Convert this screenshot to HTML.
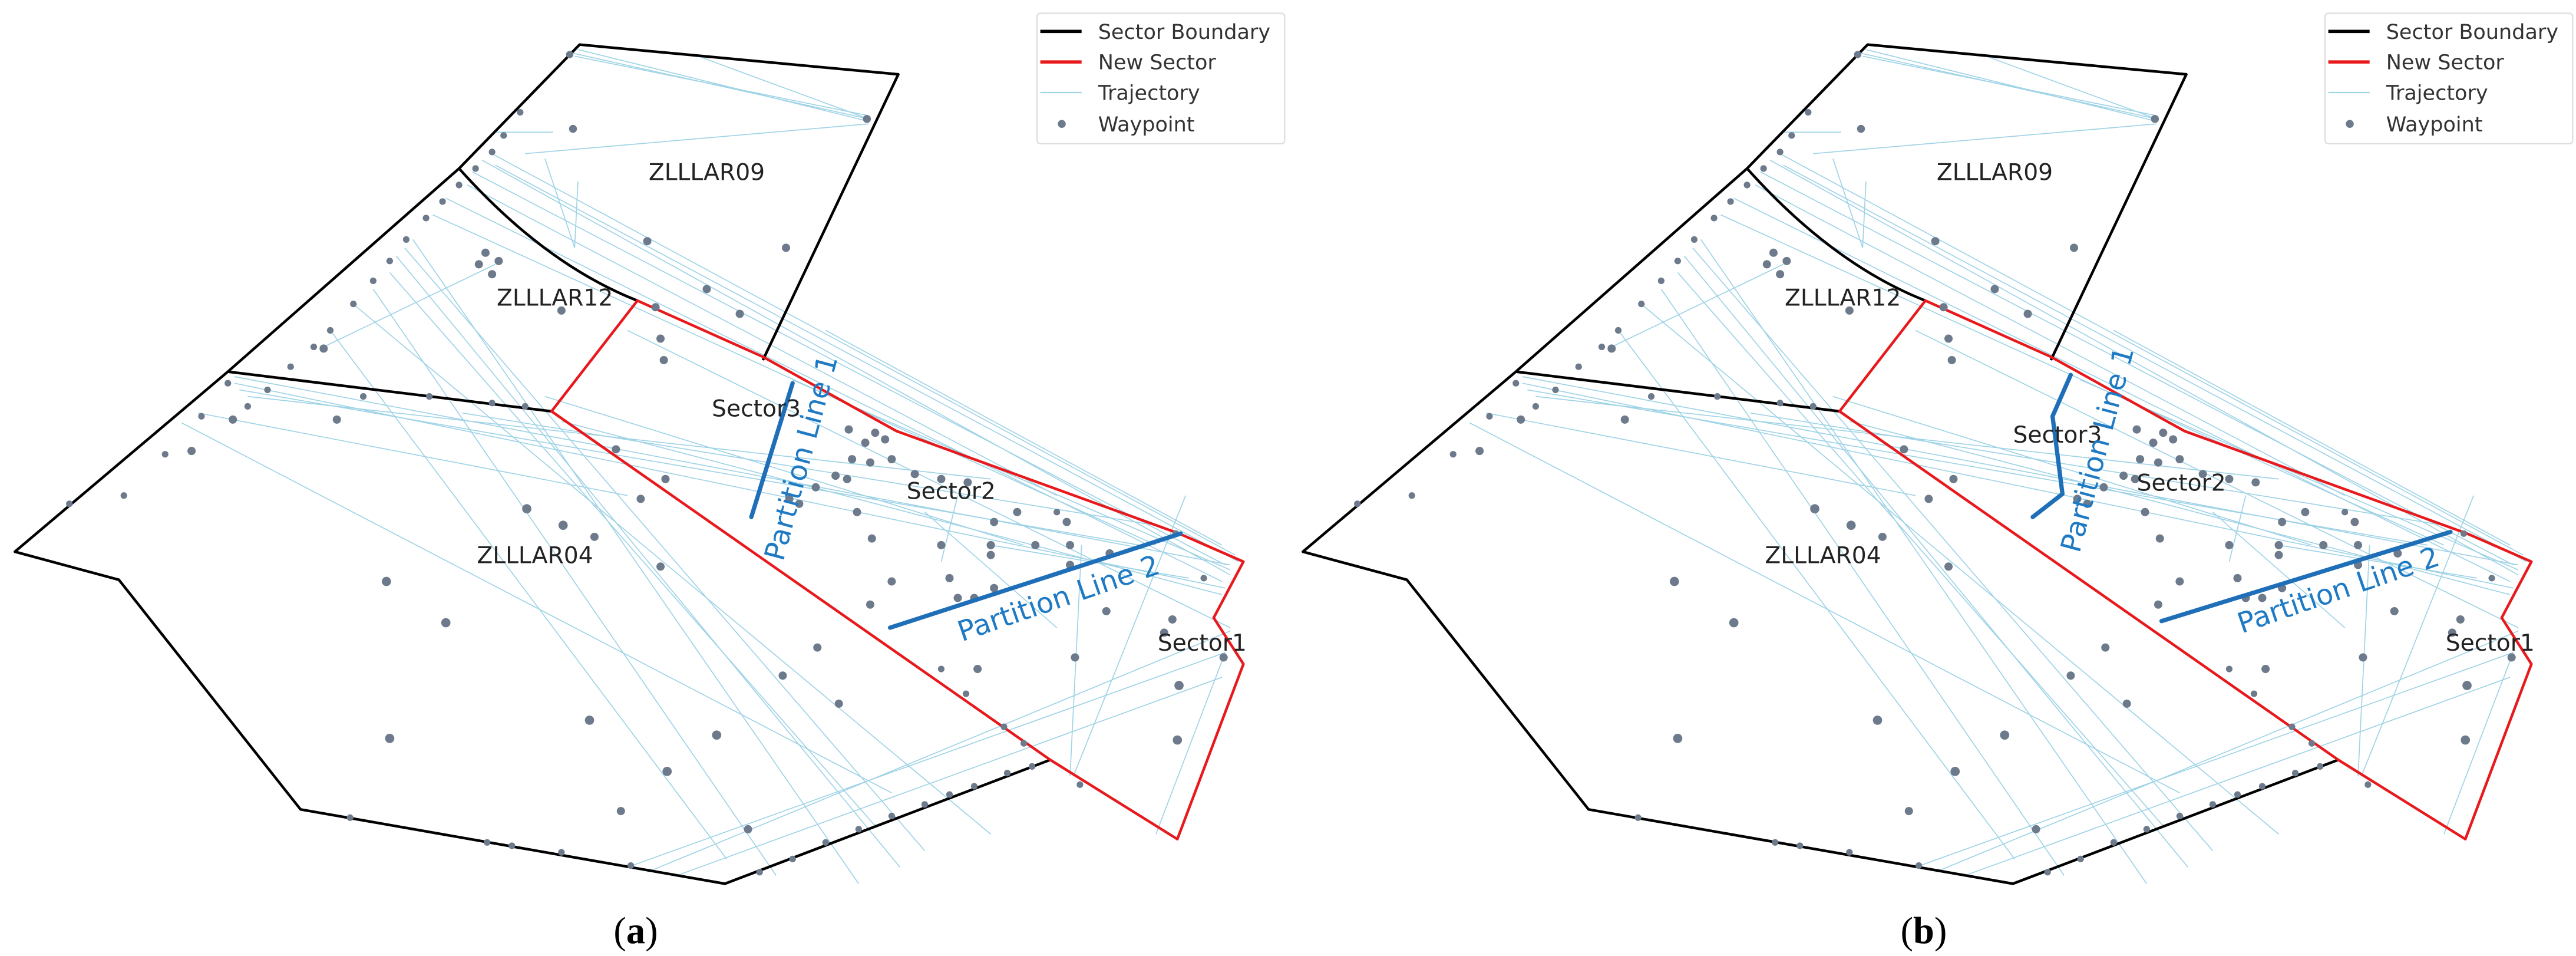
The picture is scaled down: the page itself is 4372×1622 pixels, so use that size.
<!DOCTYPE html>
<html><head><meta charset="utf-8"><style>
html,body{margin:0;padding:0;background:#fff;}
svg{display:block;}
text{font-family:"DejaVu Sans","Liberation Sans",sans-serif;}
</style></head><body>
<svg width="4372" height="1622" viewBox="0 0 1560 578.74" xmlns="http://www.w3.org/2000/svg">
<defs>
<g id="base">
 <g stroke="#9fd3e6" stroke-width="0.6" fill="none">
  <line x1="346" y1="32" x2="526" y2="72"/>
  <line x1="348" y1="34" x2="526" y2="70"/>
  <line x1="350" y1="30" x2="524" y2="73"/>
  <line x1="420" y1="33" x2="526" y2="72"/>
  <line x1="318" y1="93" x2="526" y2="75"/>
  <line x1="300" y1="80" x2="335" y2="80"/>
  <line x1="292" y1="97" x2="745" y2="348"/>
  <line x1="286" y1="104" x2="742" y2="342"/>
  <line x1="283" y1="112" x2="640" y2="300"/>
  <line x1="300" y1="100" x2="750" y2="340"/>
  <line x1="296" y1="92" x2="748" y2="336"/>
  <line x1="270" y1="120" x2="740" y2="352"/>
  <line x1="262" y1="130" x2="700" y2="330"/>
  <line x1="250" y1="145" x2="520" y2="535"/>
  <line x1="245" y1="150" x2="560" y2="515"/>
  <line x1="240" y1="155" x2="545" y2="525"/>
  <line x1="236" y1="165" x2="530" y2="500"/>
  <line x1="226" y1="175" x2="470" y2="530"/>
  <line x1="215" y1="185" x2="600" y2="505"/>
  <line x1="200" y1="200" x2="440" y2="520"/>
  <line x1="142" y1="228" x2="745" y2="342"/>
  <line x1="142" y1="232" x2="742" y2="356"/>
  <line x1="145" y1="236" x2="690" y2="330"/>
  <line x1="150" y1="240" x2="600" y2="290"/>
  <line x1="280" y1="250" x2="700" y2="318"/>
  <line x1="110" y1="256" x2="540" y2="480"/>
  <line x1="120" y1="250" x2="380" y2="300"/>
  <line x1="330" y1="96" x2="348" y2="150"/>
  <line x1="348" y1="150" x2="350" y2="110"/>
  <line x1="196" y1="210" x2="300" y2="160"/>
  <line x1="380" y1="525" x2="742" y2="395"/>
  <line x1="392" y1="528" x2="745" y2="382"/>
  <line x1="410" y1="530" x2="740" y2="410"/>
  <line x1="650" y1="470" x2="718" y2="300"/>
  <line x1="700" y1="505" x2="742" y2="395"/>
  <line x1="648" y1="470" x2="655" y2="330"/>
  <line x1="560" y1="310" x2="640" y2="380"/>
  <line x1="580" y1="300" x2="570" y2="340"/>
  <line x1="600" y1="330" x2="720" y2="350"/>
  <line x1="480" y1="230" x2="745" y2="345"/>
  <line x1="380" y1="200" x2="745" y2="380"/>
  <line x1="500" y1="200" x2="740" y2="330"/>
  <line x1="330" y1="240" x2="620" y2="330"/>
  <line x1="340" y1="255" x2="740" y2="360"/>
 </g>
 <g stroke="#000" stroke-width="1.6" fill="none" stroke-linejoin="round">
  <polyline points="636,460 439,535 182,490 72,351 9,334 138,225 278,102 351,27 544,45 462,218"/>
  <path d="M278,102 Q330,160 386,182"/>
  <polyline points="138,225 334,249"/>
 </g>
 <polygon points="386,182 462,216 543,261 714,323 753,340 735,374 753,402 713,508 636,460 334,249" fill="none" stroke="#e8191c" stroke-width="1.6" stroke-linejoin="round"/>
 <g fill="#6c7a8b">
  <circle cx="345" cy="33" r="2.2"/><circle cx="347" cy="78" r="2.4"/><circle cx="525" cy="72" r="2.4"/>
  <circle cx="315" cy="68" r="2"/><circle cx="305" cy="82" r="2"/><circle cx="298" cy="92" r="2"/>
  <circle cx="288" cy="102" r="2"/><circle cx="278" cy="112" r="2"/><circle cx="268" cy="122" r="2"/>
  <circle cx="258" cy="132" r="2"/><circle cx="246" cy="145" r="2"/><circle cx="236" cy="158" r="2"/>
  <circle cx="226" cy="170" r="2"/><circle cx="214" cy="184" r="2"/><circle cx="200" cy="200" r="2"/>
  <circle cx="190" cy="210" r="2"/><circle cx="176" cy="222" r="2"/><circle cx="162" cy="236" r="2"/>
  <circle cx="150" cy="246" r="2"/><circle cx="138" cy="232" r="2"/><circle cx="122" cy="252" r="2"/>
  <circle cx="100" cy="275" r="2"/><circle cx="75" cy="300" r="2"/><circle cx="42" cy="305" r="2"/>
  <circle cx="392" cy="146" r="2.5"/><circle cx="476" cy="150" r="2.5"/><circle cx="294" cy="153" r="2.5"/>
  <circle cx="290" cy="160" r="2.5"/><circle cx="302" cy="158" r="2.5"/><circle cx="298" cy="166" r="2.5"/>
  <circle cx="340" cy="188" r="2.5"/><circle cx="428" cy="175" r="2.5"/><circle cx="448" cy="190" r="2.5"/>
  <circle cx="397" cy="186" r="2.5"/><circle cx="400" cy="205" r="2.5"/><circle cx="402" cy="218" r="2.5"/>
  <circle cx="196" cy="211" r="2.5"/><circle cx="141" cy="254" r="2.5"/><circle cx="204" cy="254" r="2.5"/>
  <circle cx="116" cy="273" r="2.5"/><circle cx="220" cy="240" r="2"/><circle cx="260" cy="240" r="2"/>
  <circle cx="298" cy="244" r="2"/><circle cx="318" cy="246" r="2"/>
  <circle cx="514" cy="260" r="2.5"/><circle cx="524" cy="268" r="2.5"/><circle cx="530" cy="262" r="2.5"/><circle cx="536" cy="266" r="2.5"/>
  <circle cx="516" cy="278" r="2.5"/><circle cx="527" cy="280" r="2.5"/><circle cx="540" cy="278" r="2.5"/><circle cx="513" cy="290" r="2.5"/>
  <circle cx="494" cy="295" r="2.5"/><circle cx="484" cy="305" r="2.5"/><circle cx="478" cy="302" r="2.5"/><circle cx="506" cy="288" r="2.5"/>
  <circle cx="554" cy="287" r="2.5"/><circle cx="570" cy="290" r="2.5"/><circle cx="586" cy="292" r="2.5"/>
  <circle cx="519" cy="310" r="2.5"/><circle cx="528" cy="326" r="2.5"/><circle cx="570" cy="330" r="2.5"/><circle cx="602" cy="316" r="2.5"/>
  <circle cx="616" cy="310" r="2.5"/><circle cx="600" cy="330" r="2.5"/><circle cx="600" cy="336" r="2.5"/><circle cx="627" cy="330" r="2.5"/>
  <circle cx="646" cy="316" r="2.5"/><circle cx="648" cy="330" r="2.5"/><circle cx="648" cy="342" r="2.5"/><circle cx="672" cy="335" r="2.5"/>
  <circle cx="540" cy="352" r="2.5"/><circle cx="575" cy="350" r="2.5"/><circle cx="602" cy="356" r="2.5"/><circle cx="580" cy="362" r="2.5"/>
  <circle cx="590" cy="362" r="2.5"/><circle cx="527" cy="366" r="2.5"/><circle cx="670" cy="370" r="2.5"/><circle cx="710" cy="375" r="2.5"/>
  <circle cx="705" cy="383" r="2.5"/><circle cx="741" cy="398" r="2.5"/><circle cx="714" cy="415" r="2.8"/><circle cx="713" cy="448" r="2.8"/>
  <circle cx="651" cy="398" r="2.5"/><circle cx="592" cy="405" r="2.5"/><circle cx="495" cy="392" r="2.5"/><circle cx="474" cy="409" r="2.5"/>
  <circle cx="508" cy="426" r="2.5"/><circle cx="434" cy="445" r="2.8"/><circle cx="404" cy="467" r="2.8"/><circle cx="376" cy="491" r="2.5"/>
  <circle cx="453" cy="502" r="2.5"/><circle cx="357" cy="436" r="2.8"/><circle cx="236" cy="447" r="2.8"/><circle cx="270" cy="377" r="2.8"/>
  <circle cx="234" cy="352" r="2.8"/><circle cx="319" cy="308" r="2.8"/><circle cx="341" cy="318" r="2.8"/><circle cx="360" cy="325" r="2.5"/>
  <circle cx="400" cy="343" r="2.5"/><circle cx="388" cy="302" r="2.5"/><circle cx="403" cy="290" r="2.5"/><circle cx="373" cy="272" r="2.5"/>
  <circle cx="212" cy="495" r="2"/><circle cx="295" cy="510" r="2"/><circle cx="310" cy="512" r="2"/><circle cx="340" cy="516" r="2"/>
  <circle cx="382" cy="524" r="2"/><circle cx="460" cy="528" r="2"/><circle cx="480" cy="520" r="2"/><circle cx="500" cy="510" r="2"/>
  <circle cx="520" cy="502" r="2"/><circle cx="540" cy="494" r="2"/><circle cx="560" cy="487" r="2"/><circle cx="575" cy="481" r="2"/>
  <circle cx="590" cy="476" r="2"/><circle cx="610" cy="468" r="2"/><circle cx="625" cy="464" r="2"/>
  <circle cx="570" cy="405" r="2"/><circle cx="585" cy="420" r="2"/><circle cx="608" cy="440" r="2"/><circle cx="620" cy="450" r="2"/>
  <circle cx="654" cy="475" r="2"/><circle cx="640" cy="310" r="2"/><circle cx="712" cy="323" r="2"/><circle cx="729" cy="350" r="2"/>
 </g>
</g>
<g id="leg">
 <rect x="628" y="8" width="150" height="79" fill="#fff" stroke="#ddd" stroke-width="0.8" rx="2"/>
 <line x1="630" y1="19" x2="655" y2="19" stroke="#000" stroke-width="2"/>
 <line x1="630" y1="37.5" x2="655" y2="37.5" stroke="#e8191c" stroke-width="2"/>
 <line x1="630" y1="56" x2="655" y2="56" stroke="#9fd3e6" stroke-width="0.8"/>
 <circle cx="643" cy="75" r="2.4" fill="#6c7a8b"/>
</g>
</defs>

<use href="#base"/>
<use href="#leg"/>
<g stroke="#1f6fb8" stroke-width="2.6" stroke-linecap="round" fill="none">
 <line x1="480" y1="232" x2="455" y2="313"/>
 <line x1="539" y1="380" x2="715" y2="323"/>
</g>
<g font-size="14" fill="#222" text-anchor="middle">
 <text x="428" y="109">ZLLLAR09</text>
 <text x="336" y="185">ZLLLAR12</text>
 <text x="458" y="252">Sector3</text>
 <text x="576" y="302">Sector2</text>
 <text x="324" y="341">ZLLLAR04</text>
 <text x="728" y="394">Sector1</text>
</g>
<g font-size="17" fill="#1f7ac4" text-anchor="middle">
 <text transform="translate(485,277) rotate(-75)" dy="6">Partition Line 1</text>
 <text transform="translate(641,362) rotate(-19)" dy="6">Partition Line 2</text>
</g>
<g font-size="12.5" fill="#333">
 <text x="665" y="23.5">Sector Boundary</text>
 <text x="665" y="42">New Sector</text>
 <text x="665" y="60.5">Trajectory</text>
 <text x="665" y="79.5">Waypoint</text>
</g>
<text x="385" y="571" font-size="23" text-anchor="middle" style="font-family:'Liberation Serif',serif">(<tspan font-weight="bold">a</tspan>)</text>

<g transform="translate(780,0)">
 <use href="#base"/>
 <use href="#leg"/>
 <g stroke="#1f6fb8" stroke-width="2.6" stroke-linecap="round" stroke-linejoin="round" fill="none">
  <polyline points="474,227 463,252 469,299 451,313"/>
  <line x1="529" y1="376" x2="704" y2="322"/>
 </g>
 <g font-size="14" fill="#222" text-anchor="middle">
  <text x="428" y="109">ZLLLAR09</text>
  <text x="336" y="185">ZLLLAR12</text>
  <text x="466" y="268">Sector3</text>
  <text x="541" y="297">Sector2</text>
  <text x="324" y="341">ZLLLAR04</text>
  <text x="728" y="394">Sector1</text>
 </g>
 <g font-size="17" fill="#1f7ac4" text-anchor="middle">
  <text transform="translate(490,272) rotate(-75)" dy="6">Partition Line 1</text>
  <text transform="translate(636,357) rotate(-19)" dy="6">Partition Line 2</text>
 </g>
 <g font-size="12.5" fill="#333">
  <text x="665" y="23.5">Sector Boundary</text>
  <text x="665" y="42">New Sector</text>
  <text x="665" y="60.5">Trajectory</text>
  <text x="665" y="79.5">Waypoint</text>
 </g>
 <text x="385" y="571" font-size="23" text-anchor="middle" style="font-family:'Liberation Serif',serif">(<tspan font-weight="bold">b</tspan>)</text>
</g>
</svg>
</body></html>
